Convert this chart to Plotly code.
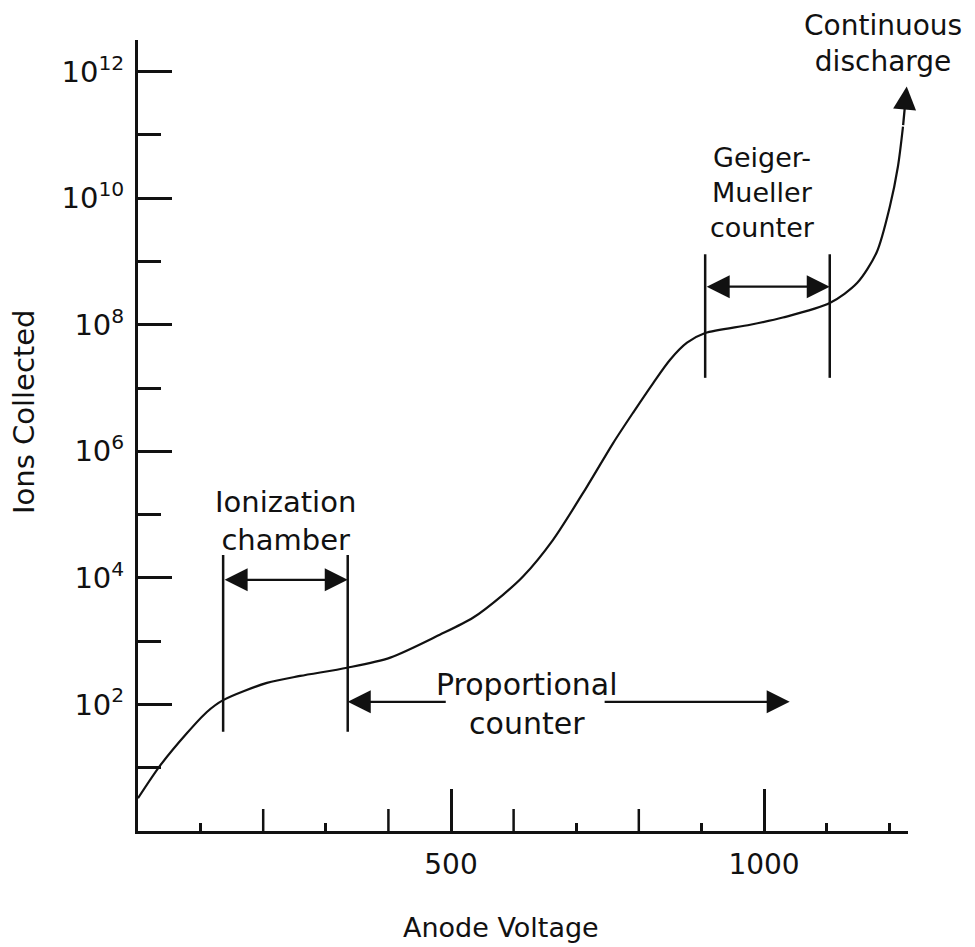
import math
import plotly.graph_objects as go

# ---------------- data ----------------
voltage = [0, 35, 78, 110, 136, 206, 259, 334, 403, 482, 535, 583, 615, 663,
           717, 759, 791, 823, 850, 877, 906, 978, 1030, 1105, 1149, 1180,
           1201, 1214, 1222]
ions = [3.3, 10.7, 35, 76, 117, 219, 282, 380, 550, 1.26e3, 2.34e3, 5.4e3,
        1.05e4, 4.0e4, 2.75e5, 1.35e6, 4.1e6, 1.2e7, 2.8e7, 5.2e7, 7.4e7,
        1.0e8, 1.3e8, 2.2e8, 4.6e8, 1.4e9, 7.4e9, 3.2e10, 1.35e11]
discharge_tip_v = 1228
discharge_tip_ions = 5.8e11

# region boundaries (voltage) and their vertical extents (ions)
ion_chamber_v = [136, 335]
ion_chamber_span = [37, 2.3e4]
ion_chamber_arrow = 9.3e3
gm_v = [906, 1105]
gm_span = [1.45e7, 1.3e9]
gm_arrow = 4.0e8
prop_left = [335, 494]
prop_right = [743, 1041]
prop_arrow = 110

# region labels: (text, voltage, ions)
label_text = ["Ionization<br>chamber", "Proportional<br>counter",
              "Geiger-<br>Mueller<br>counter", "Continuous<br>discharge"]
label_v = [235, 621, 998, 1190]
label_ions = [7.9e4, 100, 1.23e10, 2.75e12]

y_major = [1e2, 1e4, 1e6, 1e8, 1e10, 1e12]
y_major_text = ["10<sup>2</sup>", "10<sup>4</sup>", "10<sup>6</sup>",
                "10<sup>8</sup>", "10<sup>10</sup>", "10<sup>12</sup>"]
y_minor = [1e1, 1e3, 1e5, 1e7, 1e9, 1e11]
x_major = [500, 1000]
x_major_text = ["500", "1000"]
x_mid = [200, 400, 600, 800]
x_minor = [100, 300, 700, 900, 1100, 1200]

# ---------------- styling ----------------
FONT = "DejaVu Sans, sans-serif"
BLACK = "#111111"
label_sizes = [29, 30, 27, 28]

fig = go.Figure()

fig.add_trace(go.Scatter(
    x=voltage, y=ions, mode="lines",
    line=dict(color=BLACK, width=2.2, shape="spline", smoothing=0.8),
    hoverinfo="skip", showlegend=False))

# vertical boundary lines
for vals, span in ((ion_chamber_v, ion_chamber_span), (gm_v, gm_span)):
    for v in vals:
        fig.add_trace(go.Scatter(
            x=[v, v], y=span, mode="lines",
            line=dict(color=BLACK, width=2.5),
            hoverinfo="skip", showlegend=False))


def arrow(x_tail, y_tail, x_head, y_head, side="end"):
    fig.add_annotation(
        x=x_head, y=math.log10(y_head), ax=x_tail, ay=math.log10(y_tail),
        xref="x", yref="y", axref="x", ayref="y",
        text="", showarrow=True, arrowhead=2, arrowsize=2.0,
        arrowwidth=2.3, arrowcolor=BLACK, arrowside=side, standoff=0,
        startstandoff=0, startarrowhead=2, startarrowsize=2.0)


arrow(ion_chamber_v[0], ion_chamber_arrow, ion_chamber_v[1], ion_chamber_arrow,
      "end+start")
arrow(gm_v[0], gm_arrow, gm_v[1], gm_arrow, "end+start")
arrow(prop_left[1], prop_arrow, prop_left[0], prop_arrow)
arrow(prop_right[0], prop_arrow, prop_right[1], prop_arrow)
arrow(voltage[-1], ions[-1], discharge_tip_v, discharge_tip_ions)

for txt, v, n, sz in zip(label_text, label_v, label_ions, label_sizes):
    fig.add_annotation(x=v, y=math.log10(n), xref="x", yref="y", text=txt,
                       showarrow=False, xanchor="center", yanchor="middle",
                       font=dict(family=FONT, size=sz, color=BLACK))

# mid-length x ticks
for v in x_mid:
    fig.add_shape(type="line", xref="x", yref="paper", x0=v, x1=v,
                  ysizemode="pixel", yanchor=0, y0=0, y1=22,
                  line=dict(color=BLACK, width=2.5))

fig.add_annotation(text="Anode Voltage", xref="paper", yref="paper",
                   x=0.472, y=-0.1226, xanchor="center", yanchor="middle",
                   showarrow=False,
                   font=dict(family=FONT, size=27, color=BLACK))
fig.add_annotation(text="Ions Collected", xref="paper", yref="paper",
                   x=-0.149, y=0.53, xanchor="center", yanchor="middle",
                   textangle=-90, showarrow=False,
                   font=dict(family=FONT, size=29, color=BLACK))

fig.update_xaxes(
    range=[0, 1230], showline=True, linecolor=BLACK, linewidth=3,
    showgrid=False, zeroline=False, ticks="inside", ticklen=42, tickwidth=2.5,
    tickcolor=BLACK, tickmode="array", tickvals=x_major, ticktext=x_major_text,
    ticklabelstandoff=6,
    tickfont=dict(family=FONT, size=28, color=BLACK),
    minor=dict(ticks="inside", ticklen=8, tickwidth=2.5, tickcolor=BLACK,
               tickmode="array", tickvals=x_minor, showgrid=False))
fig.update_yaxes(
    type="log", range=[0, 12.5], showline=True, linecolor=BLACK, linewidth=3,
    showgrid=False, zeroline=False, ticks="inside", ticklen=34, tickwidth=3,
    tickcolor=BLACK, tickmode="array", tickvals=y_major, ticktext=y_major_text,
    ticklabelstandoff=5,
    tickfont=dict(family=FONT, size=29, color=BLACK),
    minor=dict(ticks="inside", ticklen=23, tickwidth=3, tickcolor=BLACK,
               tickmode="array", tickvals=y_minor, showgrid=False))

fig.update_layout(
    width=975, height=947, margin=dict(l=130, r=75, t=32, b=124),
    plot_bgcolor="white", paper_bgcolor="white", showlegend=False)

fig.write_html("out.html")
